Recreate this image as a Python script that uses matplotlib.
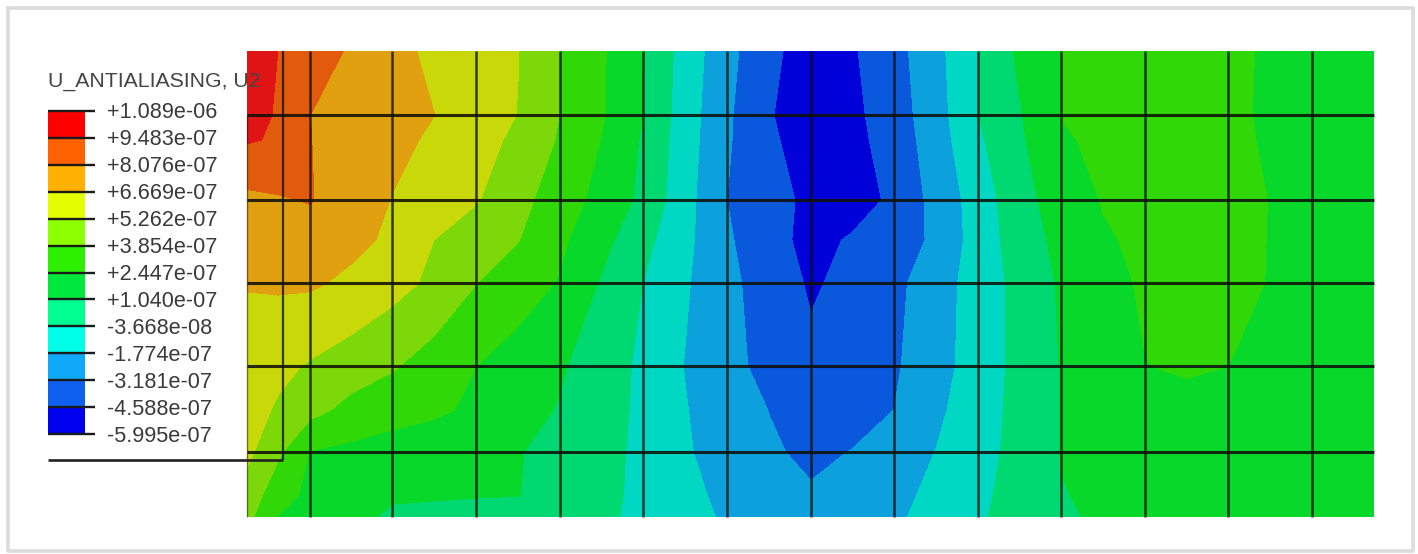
import numpy as np
import matplotlib
matplotlib.use("Agg")
import matplotlib.pyplot as plt

plt.rcParams['font.family'] = ['Liberation Sans', 'DejaVu Sans']

# legend levels, top to bottom
level_labels = ["+1.089e-06", "+9.483e-07", "+8.076e-07", "+6.669e-07", "+5.262e-07",
                "+3.854e-07", "+2.447e-07", "+1.040e-07", "-3.668e-08", "-1.774e-07",
                "-3.181e-07", "-4.588e-07", "-5.995e-07"]
levels = [10.89, 9.483, 8.076, 6.669, 5.262, 3.854, 2.447, 1.040, -0.3668, -1.774, -3.181, -4.588, -5.995]

# band colours, top band first
legend_colors = ['#ff0000', '#ff6000', '#ffb000', '#e4ff00', '#8cff00', '#2cf000',
                 '#00e83c', '#00ff90', '#00ffe8', '#10a8f8', '#1060f0', '#0000f0']
field_colors = ['#e01414', '#e25a0c', '#e0a010', '#c8d808', '#7cd808', '#30d808',
                '#08d82a', '#00d872', '#00d8c4', '#0ca0dc', '#0a58dc', '#0000d8']

# mesh lines
mesh_x = [310, 392, 476, 560, 643, 727, 811, 894, 978, 1061, 1145, 1228, 1312]
mesh_y = [115, 200, 283, 366, 452]

# U2, in units of 1e-7
node_x = [247, 278, 310, 351, 392, 434, 476, 518, 560, 602, 643, 685, 727, 769,
          811, 852, 894, 936, 978, 1020, 1061, 1103, 1145, 1187, 1228, 1270, 1312, 1374]
node_y = [51, 115, 140, 200, 240, 283, 366, 410, 452, 495, 517]
u2_y051 = [10.7, 9.48, 8.79, 7.91, 7.08, 6.38, 5.84, 5.29, 3.82, 2.60, 1.11, -0.93, -2.77, -4.23,
           -5.3, -4.74, -3.70, -2.20, -0.37, 1.32, 2.46, 2.9, 3.2, 3.1, 2.7, 2.3, 2.0, 1.6]
u2_y115 = [10.4, 9.26, 8.08, 7.61, 7.15, 6.68, 5.97, 5.23, 3.83, 2.56, 1.04, -1.07, -2.96, -4.48,
           -5.4, -4.92, -3.87, -2.37, -0.37, 0.95, 2.48, 2.9, 3.2, 3.0, 2.65, 2.3, 2.0, 1.6]
u2_y140 = [9.6, 9.35, 8.1, 7.55, 7.0, 6.48, 5.8, 4.96, 3.7, 2.4, 0.88, -1.13, -3.02, -4.36,
           -5.25, -5.0, -4.0, -2.47, -0.6, 0.84, 2.24, 2.79, 3.08, 3.0, 2.66, 2.34, 2.03, 1.63]
u2_y200 = [7.75, 7.95, 8.15, 7.39, 6.63, 6.0, 5.37, 4.30, 3.12, 1.99, 0.72, -1.28, -3.18, -4.08,
           -4.9, -5.2, -4.33, -2.72, -1.17, 0.58, 1.65, 2.52, 2.8, 3.0, 2.7, 2.43, 2.1, 1.7]
u2_y240 = [7.3, 7.4, 7.5, 7.0, 6.45, 5.26, 4.5, 3.9, 2.7, 1.45, 0.06, -1.42, -3.0, -4.1,
           -5.0, -4.45, -3.98, -2.9, -1.18, 0.35, 1.4, 2.3, 2.7, 2.95, 2.72, 2.42, 2.1, 1.7]
u2_y283 = [6.75, 6.85, 6.85, 6.41, 5.76, 4.97, 3.88, 3.13, 2.34, 0.89, -0.37, -1.62, -2.82, -3.86,
           -4.75, -4.23, -3.57, -2.35, -1.23, 0.11, 1.20, 2.05, 2.6, 2.85, 2.7, 2.41, 2.1, 1.7]
u2_y366 = [6.0, 5.6, 5.13, 4.57, 4.0, 3.22, 2.46, 1.83, 1.19, 0.34, -0.65, -1.82, -2.82, -3.55,
           -4.3, -3.93, -3.36, -2.33, -1.12, 0.03, 1.09, 1.74, 2.42, 2.6, 2.45, 2.25, 2.0, 1.7]
u2_y410 = [5.85, 5.09, 4.3, 3.42, 2.95, 2.68, 2.2, 1.5, 0.95, 0.2, -0.65, -1.7, -2.6, -3.2,
           -3.9, -3.6, -3.18, -2.05, -1.0, 0.05, 1.08, 1.5, 1.9, 2.05, 2.0, 1.9, 1.75, 1.6]
u2_y452 = [5.6, 4.1, 2.39, 2.13, 1.88, 1.63, 1.37, 1.11, 0.62, 0.03, -0.66, -1.62, -2.40, -3.04,
           -3.4, -3.15, -2.45, -1.75, -0.88, 0.08, 1.07, 1.2, 1.3, 1.4, 1.45, 1.5, 1.5, 1.5]
u2_y495 = [4.7, 3.0, 2.15, 1.8, 1.25, 1.18, 1.12, 1.08, 0.35, -0.1, -0.61, -1.41, -2.1, -2.68,
           -3.07, -2.69, -2.14, -1.47, -0.66, 0.16, 1.01, 1.15, 1.23, 1.33, 1.38, 1.43, 1.47, 1.5]
u2_y517 = [4.25, 2.4, 2.03, 1.54, 0.75, 0.65, 0.55, 0.3, 0.05, -0.2, -0.59, -1.31, -1.95, -2.5,
           -2.9, -2.45, -1.98, -1.33, -0.55, 0.2, 0.98, 1.1, 1.2, 1.3, 1.35, 1.4, 1.45, 1.5]

u2 = np.array([u2_y051, u2_y115, u2_y140, u2_y200, u2_y240, u2_y283,
               u2_y366, u2_y410, u2_y452, u2_y495, u2_y517])

fig = plt.figure(figsize=(14.18, 5.54), dpi=100)
ax = fig.add_axes([0, 0, 1, 1])
ax.set_xlim(0, 1418)
ax.set_ylim(554, 0)
ax.axis('off')

# grey frame of the screenshot
ax.plot([8, 1413, 1413, 8, 8], [8, 8, 551, 551, 8], color='#dcdcdc', lw=2.6)

# contour plot
ax.contourf(node_x, node_y, u2, levels=levels[::-1], colors=field_colors[::-1], zorder=2)

# mesh
line_color = '#101008'
ax.vlines(mesh_x, node_y[0], node_y[-1], color=line_color, lw=1.8, alpha=0.8, zorder=3)
ax.hlines(mesh_y, node_x[0], node_x[-1], color=line_color, lw=2.2, alpha=0.88, zorder=3)
ax.vlines(node_x[0], 115, node_y[-1], color=line_color, lw=1.0, alpha=0.5, zorder=3)

# legend box lines
ax.vlines(283, 51, 460, color=line_color, lw=1.6, alpha=0.8, zorder=3)
ax.hlines(460, 48, 283, color='#222222', lw=1.9, zorder=3)

# legend
ticks_y = np.linspace(111, 434, len(levels))
for i, c in enumerate(legend_colors):
    ax.fill_between([48, 85], ticks_y[i], ticks_y[i + 1], color=c, lw=0, zorder=4)
ax.hlines(ticks_y, 48, 95, color='#1a1a1a', lw=1.7, zorder=5)
for y, label in zip(ticks_y, level_labels):
    ax.text(107, y + 2, label, fontsize=15.6, color='#3a3a3a', va='center', ha='left', zorder=6)
ax.text(48, 87, "U_ANTIALIASING, U2", fontsize=15.3, color='#444444', va='baseline', ha='left', zorder=6)

fig.savefig("out.png", dpi=100)
